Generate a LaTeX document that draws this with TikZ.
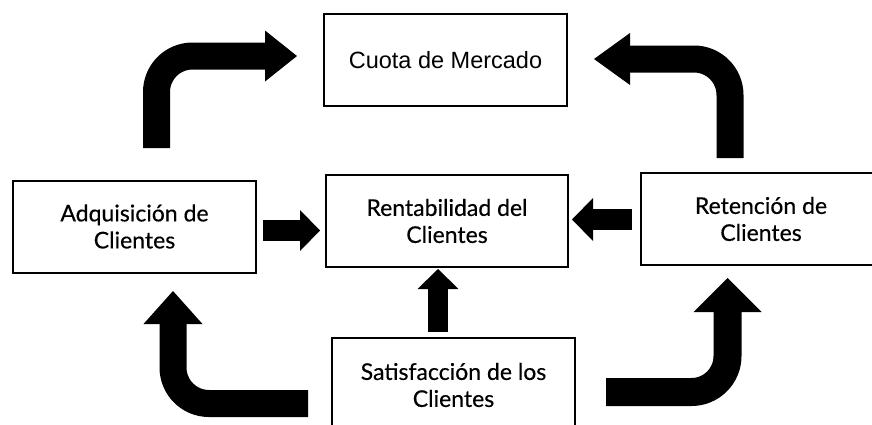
\documentclass[tikz,border=0pt]{standalone}
\usepackage{fontspec}
\setmainfont{Lato}[FakeBold=0.4]
\newfontfamily\boxfont{Lato}[FakeBold=0.4]
\newfontfamily\arialfont{Liberation Sans}
\usetikzlibrary{arrows.meta}
\tikzset{
  box/.style={draw=black, line width=2pt, fill=white, rectangle, inner sep=0pt,
    minimum width=243pt, minimum height=92pt, align=center,
    font=\boxfont\fontsize{23}{27}\selectfont},
  bigarrow/.style={draw=black, line cap=butt, line join=round, rounded corners=36pt},
}
\begin{document}
\begin{tikzpicture}[x=1pt,y=-1pt]
\useasboundingbox (0,0) rectangle (872,424);
\clip (0,0) rectangle (872,424);
\fill[white] (0,0) rectangle (872,424);

% boxes
\node[box, font=\arialfont\fontsize{23.5}{27}\selectfont] (cuota) at (445.5,60) {Cuota de Mercado};
\node[box] (adq) at (134.5,226.5) {Adquisición de\\Clientes};
\node[box, minimum width=242pt] (rent) at (447,221) {Rentabilidad del\\Clientes};
\node[box, minimum width=240pt] (ret) at (761,219) {Retención de\\Clientes};
\node[box, minimum height=94pt] (sat) at (453.5,385) {Satisfacción de los\\Clientes};

% arrow end points
\coordinate (aS) at (156.5,148);
\coordinate (aE) at (297,56);
\coordinate (bS) at (730,158);
\coordinate (bE) at (594,59);
\coordinate (cS) at (308,403.5);
\coordinate (cE) at (173,291);
\coordinate (dS) at (606,392);
\coordinate (dE) at (727.5,278);
\coordinate (eS) at (263,230.5);
\coordinate (eE) at (320,230.5);
\coordinate (fS) at (632,219.5);
\coordinate (fE) at (572,219.5);
\coordinate (gS) at (438,332);
\coordinate (gE) at (438,269);

% bent arrows
\draw[bigarrow, line width=27pt, -{Triangle[length=32pt,width=51pt,line width=0pt]}]
  (aS) |- (aE);
\draw[bigarrow, line width=27pt, -{Triangle[length=36pt,width=52pt,line width=0pt]}]
  (bS) |- (bE);
\draw[bigarrow, line width=27pt, -{Triangle[length=33pt,width=59pt,line width=0pt]}]
  (cS) -| (cE);
\draw[bigarrow, line width=28pt, -{Triangle[length=34pt,width=68pt,line width=0pt]}]
  (dS) -| (dE);

% straight arrows
\draw[bigarrow, line width=21pt, -{Triangle[length=20pt,width=41pt,line width=0pt]}] (eS) -- (eE);
\draw[bigarrow, line width=21pt, -{Triangle[length=21pt,width=43pt,line width=0pt]}] (fS) -- (fE);
\draw[bigarrow, line width=20pt, -{Triangle[length=20pt,width=41pt,line width=0pt]}] (gS) -- (gE);
\end{tikzpicture}
\end{document}
